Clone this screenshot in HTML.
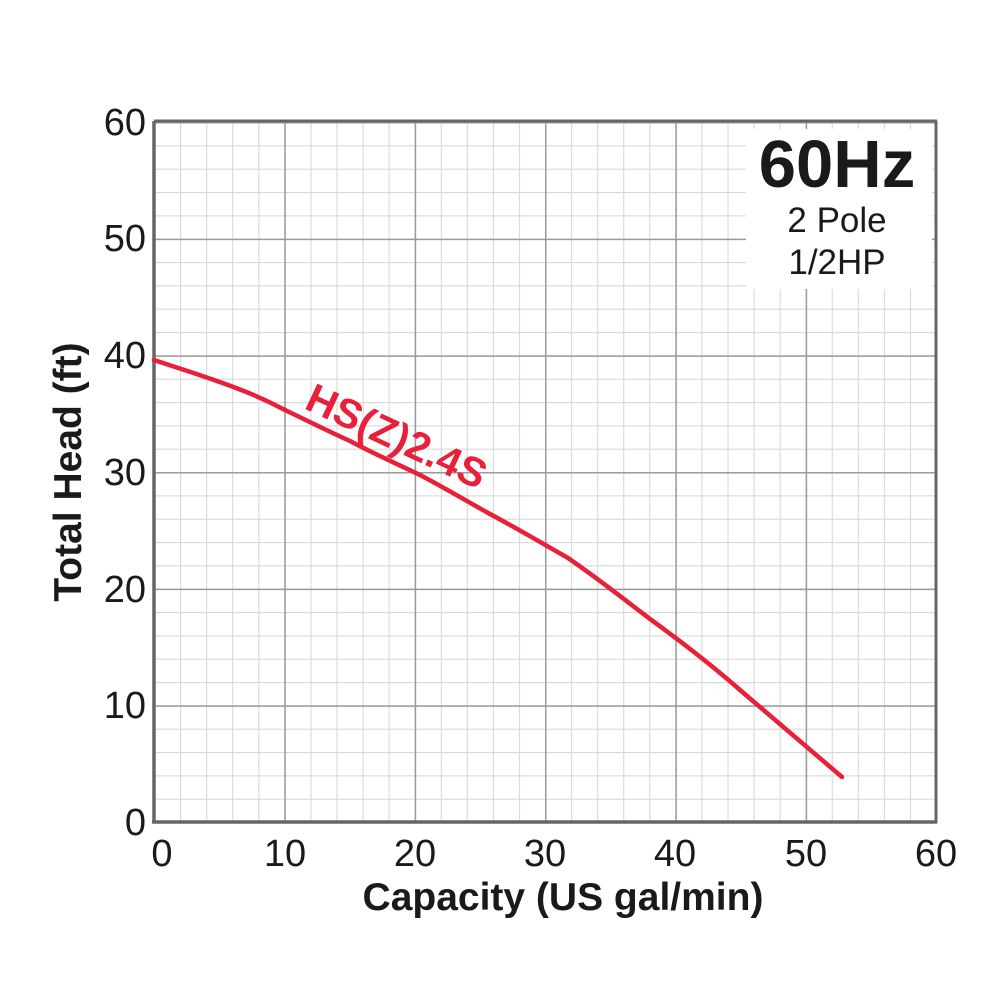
<!DOCTYPE html>
<html><head><style>html,body{margin:0;padding:0;background:#fff}</style></head>
<body>
<svg width="1001" height="1001" xmlns="http://www.w3.org/2000/svg" font-family="Liberation Sans, Arial, sans-serif">
<defs>
<pattern id="mi" patternUnits="userSpaceOnUse" x="154" y="122" width="26.0667" height="23.3333">
<path d="M0,0 V23.3333 M0,0 H26.0667" stroke="#d8d8d8" stroke-width="2.2" fill="none"/>
</pattern>
<pattern id="ma" patternUnits="userSpaceOnUse" x="154" y="122" width="130.333" height="116.667">
<path d="M0,0 V116.667 M0,0 H130.333" stroke="#9a9a9a" stroke-width="3" fill="none"/>
</pattern>
</defs>
<rect width="1001" height="1001" fill="#fff"/>
<rect x="154" y="122" width="782" height="700" fill="url(#mi)"/>
<rect x="154" y="122" width="782" height="700" fill="url(#ma)"/>
<rect x="746" y="129" width="186" height="160" fill="#fff"/>
<line x1="154" y1="121" x2="937" y2="121" stroke="#666" stroke-width="3"/>
<line x1="936" y1="121" x2="936" y2="823" stroke="#666" stroke-width="3"/>
<line x1="154" y1="121" x2="154" y2="823" stroke="#666" stroke-width="3.5"/>
<line x1="152" y1="822" x2="937" y2="822" stroke="#666" stroke-width="3.5"/>
<g font-size="38" fill="#1a1a1a" text-anchor="end">
<text x="146" y="135">60</text><text x="146" y="251">50</text><text x="146" y="368">40</text>
<text x="146" y="485">30</text><text x="146" y="602">20</text><text x="146" y="718">10</text><text x="146" y="835">0</text>
</g>
<g font-size="38" fill="#1a1a1a" text-anchor="middle">
<text x="162" y="866">0</text><text x="285" y="866">10</text><text x="415" y="866">20</text>
<text x="545" y="866">30</text><text x="675" y="866">40</text><text x="806" y="866">50</text><text x="936" y="866">60</text>
</g>
<text x="563" y="910" font-size="39" font-weight="bold" text-anchor="middle" fill="#1a1a1a">Capacity (US gal/min)</text>
<text transform="translate(81,472) rotate(-90)" font-size="39" font-weight="bold" text-anchor="middle" fill="#1a1a1a">Total Head (ft)</text>
<text x="837" y="187" font-size="67" font-weight="bold" text-anchor="middle" fill="#1a1a1a">60Hz</text>
<text x="837" y="232" font-size="35" text-anchor="middle" fill="#1a1a1a">2 Pole</text>
<text x="837" y="274" font-size="35" text-anchor="middle" fill="#1a1a1a">1/2HP</text>
<path d="M154,360 C190,372 210,378 236,388 C255,395 270,402 285,410 C310,422 330,432 350,441 C380,457 400,465 420,475 C445,488 470,503 490,514 C520,530 545,545 568,558 C600,580 625,600 650,619 C690,648 715,668 740,690 C775,720 810,750 842,777" fill="none" stroke="#e8203a" stroke-width="4.5" stroke-linecap="round"/>
<text transform="translate(303,408) rotate(25)" font-size="41" font-weight="bold" fill="#e8203a">HS(Z)2.4S</text>
</svg>
</body></html>
